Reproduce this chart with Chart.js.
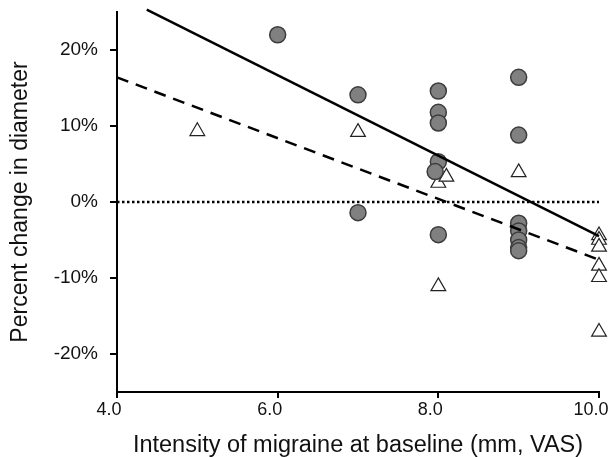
<!DOCTYPE html>
<html>
<head>
<meta charset="utf-8">
<script src="https://cdn.jsdelivr.net/npm/chart.js@4.4.1/dist/chart.umd.min.js"></script>
<style>
  html, body { margin: 0; padding: 0; background: #fff; }
  #wrap { width: 612px; height: 457px; }
</style>
</head>
<body>
<div id="wrap"><canvas id="grafico"></canvas></div>
<script>
  // circles (filled grey)
  const circX = [6, 7, 7, 8, 8, 8, 8, 7.96, 8, 9, 9, 9, 9, 9, 9, 9];
  const circY = [22.0, 14.1, -1.4, 14.6, 11.8, 10.4, 5.3, 4.0, -4.3, 16.4, 8.8, -2.8, -3.8, -5.0, -6.0, -6.4];

  // triangles (open)
  const triX = [5, 7, 8, 8.1, 8, 9, 10, 10, 10, 10, 10, 10];
  const triY = [9.3, 9.2, 2.5, 3.3, -11.1, 3.9, -4.4, -5.0, -5.9, -8.4, -9.9, -17.1];

  // fitted lines
  const solidX = [4.37, 10];
  const solidY = [25.3, -4.5];
  const dashX = [4, 10];
  const dashY = [16.4, -7.6];
  const zeroX = [4, 10];
  const zeroY = [0, 0];

  const yTicks = [-20, -10, 0, 10, 20];
  const xTicks = [4, 6, 8, 10];

  const pts = (xs, ys) => xs.map((x, i) => ({x: x, y: ys[i]}));

  const lineDs = (xs, ys, dash) => ({
    data: pts(xs, ys),
    showLine: true,
    borderColor: '#000',
    borderWidth: 2.5,
    borderDash: dash,
    pointRadius: 0,
    clip: false
  });

  const noPad = s => { s.paddingLeft = 0; s.paddingRight = 0; s.paddingTop = 0; s.paddingBottom = 0; };

  new Chart(document.getElementById('grafico'), {
    type: 'scatter',
    data: {
      datasets: [
        lineDs(solidX, solidY, []),
        lineDs(dashX, dashY, [12, 8]),
        lineDs(zeroX, zeroY, [2.5, 2.5]),
        {
          data: pts(circX, circY),
          pointStyle: 'circle',
          pointRadius: 8,
          backgroundColor: '#808080',
          borderColor: '#3c3c3c',
          borderWidth: 1.5,
          clip: false
        },
        {
          data: pts(triX, triY),
          pointStyle: 'triangle',
          pointRadius: 8.5,
          backgroundColor: '#fff',
          borderColor: '#222',
          borderWidth: 1.2,
          clip: false
        }
      ]
    },
    options: {
      responsive: true,
      maintainAspectRatio: false,
      animation: false,
      layout: {padding: {top: 12, right: 13, left: 0, bottom: 0}},
      plugins: {legend: {display: false}, tooltip: {enabled: false}},
      scales: {
        x: {
          type: 'linear',
          min: 4, max: 10,
          afterBuildTicks: s => { s.ticks = xTicks.map(v => ({value: v})); },
          afterFit: s => { s.height = 65; noPad(s); },
          border: {color: '#000', width: 2},
          grid: {drawOnChartArea: false, drawTicks: true, tickLength: 6, color: '#000', lineWidth: 2},
          ticks: {
            color: '#111', padding: 1, labelOffset: -8,
            font: {family: 'Liberation Sans, Arial', size: 18},
            callback: v => v.toFixed(1)
          },
          title: {
            display: true,
            text: 'Intensity of migraine at baseline (mm, VAS)',
            color: '#111',
            padding: {top: 2, bottom: 0},
            font: {family: 'Liberation Sans, Arial', size: 23.5, lineHeight: 1.0}
          }
        },
        y: {
          min: -25, max: 25,
          afterBuildTicks: s => { s.ticks = yTicks.map(v => ({value: v})); },
          afterFit: s => { s.width = 117; noPad(s); },
          border: {color: '#000', width: 2},
          grid: {drawOnChartArea: false, drawTicks: true, tickLength: 7, color: '#000', lineWidth: 2},
          ticks: {
            color: '#111', padding: 12,
            font: {family: 'Liberation Sans, Arial', size: 19},
            callback: v => v + '%'
          },
          title: {
            display: true,
            text: 'Percent change in diameter',
            color: '#111',
            padding: {top: 7, bottom: 4},
            font: {family: 'Liberation Sans, Arial', size: 23}
          }
        }
      }
    }
  });
</script>
</body>
</html>
